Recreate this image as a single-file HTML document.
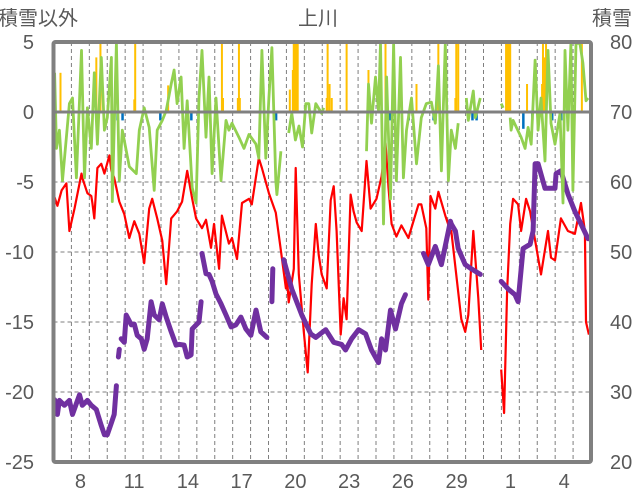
<!DOCTYPE html>
<html><head><meta charset="utf-8"><style>
html,body{margin:0;padding:0;background:#fff;}
svg{display:block;font-family:"Liberation Sans","Noto Sans CJK JP",sans-serif;}
</style></head><body>
<svg id="chart" width="636" height="501" viewBox="0 0 636 501">
<defs><clipPath id="plotclip"><rect x="54" y="43" width="536" height="418"/></clipPath></defs>
<g id="grid"></g>
<g id="bars" clip-path="url(#plotclip)"></g>
<g id="lines" clip-path="url(#plotclip)"></g>
<g id="frame"></g>
<g id="labels"></g>
<text x="38" y="25" font-size="20" fill="#595959" text-anchor="middle">積雪以外</text>
<text x="318" y="25" font-size="20" fill="#595959" text-anchor="middle">上川</text>
<text x="612" y="25" font-size="20" fill="#595959" text-anchor="middle">積雪</text>
</svg>
<script>
const leftTicks=[5,0,-5,-10,-15,-20,-25];
const rightTicks=[80,70,60,50,40,30,20];
const dayLabels=["8","11","14","17","20","23","26","29","1","4"];
const dayLabelIdx=[1,4,7,10,13,16,19,22,25,28];
const nDays=30;
const redT=[0.0,0.06,0.22,0.45,0.72,0.89,1.17,1.56,1.61,1.89,2.11,2.17,2.28,2.45,2.67,2.84,3.12,3.23,3.39,3.67,3.95,4.23,4.51,4.79,5.06,5.34,5.51,5.79,6.07,6.29,6.57,6.9,7.18,7.46,7.74,7.96,8.29,8.51,8.79,8.96,9.24,9.4,9.79,9.96,10.24,10.52,10.91,11.07,11.46,11.63,12.02,12.41,12.69,12.97,13.02,13.13,13.41,13.52,13.69,13.97,14.19,14.41,14.64,14.8,14.97,15.25,15.47,15.64,15.8,16.03,16.19,16.36,16.58,16.75,16.92,17.2,17.47,17.7,18.03,18.31,18.53,18.7,18.87,19.14,19.42,19.81,20.37,20.53,20.81,20.92,21.04,21.31,21.48,21.87,22.15,22.2,22.76,22.98,23.15,23.32,23.43,23.71,23.87,24.5,24.99,25.15,25.32,25.49,25.65,25.93,26.1,26.38,26.6,27.21,27.6,27.77,27.99,28.32,28.71,29.1,29.44,29.66,29.72,29.88];
const redV=[-9.6,-6.1,-6.7,-5.6,-5.1,-8.5,-6.9,-4.4,-4.7,-5.8,-6.0,-6.5,-7.6,-4.0,-3.7,-4.4,-3.1,-4.2,-4.7,-6.4,-7.3,-9.0,-7.8,-8.7,-10.8,-6.9,-6.2,-7.6,-9.2,-12.3,-7.6,-7.1,-6.4,-4.2,-6.2,-7.6,-8.3,-7.7,-9.7,-8.0,-11.2,-7.4,-9.4,-9.0,-10.5,-6.5,-6.2,-6.6,-3.3,-4.0,-5.8,-7.2,-9.9,-12.6,-11.6,-13.6,-11.2,-4.0,-11.6,-15.7,-18.6,-12.3,-8.0,-10.2,-11.6,-12.6,-6.3,-5.3,-8.5,-15.9,-13.3,-14.8,-5.9,-7.1,-7.9,-8.5,-3.5,-6.9,-6.2,-4.6,-2.2,-5.4,-8.0,-8.9,-8.1,-9.0,-6.6,-6.6,-8.3,-13.4,-6.0,-6.9,-5.7,-7.4,-8.5,-8.5,-14.8,-15.7,-14.5,-10.9,-8.5,-13.3,-17.0,null,-18.4,-21.5,-12.8,-8.0,-6.2,-6.6,-8.5,-6.2,-7.1,-11.6,-8.5,-10.4,-10.6,-7.6,-8.5,-8.7,-6.5,-8.5,-15.0,-15.9];
const greenT=[0.06,0.17,0.33,0.5,0.89,1.06,1.28,1.56,1.73,1.89,2.11,2.28,2.45,2.67,2.84,3.0,3.23,3.28,3.51,3.67,3.84,4.23,4.62,4.79,5.06,5.34,5.62,5.79,6.07,6.29,6.57,6.73,6.9,7.12,7.29,7.46,7.74,7.96,8.12,8.29,8.51,8.68,8.85,9.07,9.35,9.63,9.79,9.96,10.35,10.63,10.91,11.3,11.46,11.63,11.85,12.02,12.19,12.41,12.47,12.69,12.9,13.13,13.3,13.5,13.7,13.9,14.08,14.25,14.41,14.64,14.97,15.08,16.0,17.47,17.58,17.75,17.97,18.14,18.25,18.42,18.59,18.81,18.98,19.14,19.37,19.53,19.7,19.98,20.26,20.53,20.81,21.09,21.31,21.48,21.65,21.87,22.04,22.2,22.43,22.59,22.8,23.04,23.15,23.43,23.54,23.82,24.4,24.99,25.1,25.3,25.49,25.54,25.65,26.1,26.32,26.49,26.66,26.88,27.05,27.21,27.43,27.6,27.77,27.99,28.27,28.44,28.55,28.71,28.88,28.99,29.16,29.38,29.55,29.72,29.83];
const greenV=[2.8,-2.6,-1.3,-4.9,0.6,1.0,-4.7,4.4,-4.7,0.3,-2.6,2.8,-2.3,3.9,-1.3,-0.4,3.9,-6.4,4.9,-4.9,-1.3,-3.9,-4.4,-1.3,0.3,-1.1,-5.6,-1.3,-0.6,0.1,2.0,3.0,0.6,2.5,-2.6,0.8,-5.4,-6.5,1.0,4.4,-1.8,2.5,-4.4,1.0,-4.9,-0.6,-1.3,-0.8,-1.8,-2.6,-1.6,-2.3,-3.3,4.4,-3.3,1.0,4.6,-4.9,-5.9,-2.8,null,-1.5,-0.1,-2.0,-1.0,-2.5,0.6,0.6,-1.5,0.6,-0.1,0.3,null,-2.8,2.0,-0.8,2.5,0.1,4.9,-8.0,2.5,-6.2,4.9,-4.9,3.9,-4.7,-1.3,1.0,-3.7,-0.4,0.6,0.7,-0.8,3.3,-4.2,4.9,-4.9,-1.3,-2.6,-0.8,null,1.0,-0.6,1.5,-0.4,1.0,null,0.6,0.3,null,-0.4,-1.3,-0.6,-1.8,-2.6,-1.1,-2.3,3.7,-1.3,1.0,-3.5,4.4,-0.8,-2.3,-0.1,-6.5,4.4,-1.3,4.9,-5.6,4.9,4.9,3.5,0.8,1.0];
const snowT=[0.06,0.22,0.33,0.61,0.89,1.06,1.45,1.61,1.89,2.11,2.39,2.67,2.84,3.0,3.23,3.39,3.51,3.56,3.62,3.67,3.72,3.78,3.95,4.06,4.34,4.51,4.67,4.9,5.06,5.23,5.45,5.62,5.9,6.07,6.29,6.57,6.84,7.01,7.29,7.46,7.68,7.74,8.12,8.24,8.27,8.29,8.51,8.68,8.85,9.07,9.35,9.63,9.91,10.18,10.46,10.74,11.02,11.3,11.57,11.91,12.05,12.19,12.24,12.5,12.85,13.3,13.86,14.36,14.64,15.19,15.64,16.08,16.3,16.64,17.03,17.42,17.75,18.14,18.31,18.53,18.81,19.09,19.42,19.64,20.2,20.65,20.92,21.31,21.65,22.04,22.15,22.2,22.43,22.59,22.98,23.32,23.82,24.4,24.99,25.38,25.76,25.93,26.21,26.6,26.77,26.88,27.05,27.43,27.99,28.05,28.32,28.71,29.1,29.44,29.83];
const snowV=[28.9,26.8,28.8,28.1,28.8,26.8,29.6,28.1,28.8,28.1,27.5,25.2,23.9,23.9,25.6,26.8,30.9,null,35.0,36.1,null,37.6,37.1,41.0,39.6,39.7,38.1,37.6,36.1,37.6,42.9,41.0,40.3,42.6,40.7,38.6,36.7,36.8,36.7,35.0,35.3,39.0,40.0,42.9,null,49.8,46.9,46.8,45.8,44.0,42.6,41.0,39.3,39.6,40.7,39.0,38.1,41.7,38.6,37.8,null,42.9,47.6,null,48.9,44.7,41.0,38.3,37.8,38.9,37.1,36.8,36.0,37.6,38.9,38.3,36.0,34.2,37.6,36.0,41.7,39.0,42.6,43.9,null,49.8,48.2,50.8,48.2,53.0,54.4,54.0,53.0,50.5,48.2,47.6,46.8,null,45.8,44.7,43.9,42.9,50.5,51.1,53.0,62.6,62.6,59.1,59.1,61.2,61.6,58.3,55.8,54.0,51.9];
const precipT=[0.39,2.39,2.62,4.51,4.56,6.4,9.4,9.46,10.29,10.35,10.4,13.19,13.36,13.41,13.47,13.52,13.58,13.63,15.25,15.3,15.41,15.53,16.36,17.58,18.53,20.26,21.48,22.43,22.48,22.59,25.26,25.32,25.38,25.43,25.49,26.43,27.27,27.32,27.43,27.49,29.49];
const precipV=[2.8,3.9,5,0.9,5,1.9,5,1.0,1.0,5,1.0,1.6,3.0,5,5,5,5,5,1.0,5,2.0,1.0,5,3.0,5,2.0,5,1.0,5,5,5,5,5,5,5,2.0,2.0,5,3.9,5,5];
const negT=[3.56,3.84,5.95,7.68,12.41,18.75,19.81,21.2,21.31,23.37,23.6,26.21,26.71,27.82,28.32];
const negV=[-0.6,-0.6,-0.6,-0.6,-0.6,-0.6,-0.6,-0.6,-0.6,-0.6,-0.6,-1.2,-0.6,-0.6,-0.6];

const X0=53.5,X1=591,Y0=112,PX=14;
const xS=t=>X0+t*(X1-X0)/nDays;
const yL=v=>Y0-v*PX;
const yR=s=>yL((s-70)/2);
const NS="http://www.w3.org/2000/svg";
function mk(tag,attrs,parent){const e=document.createElementNS(NS,tag);for(const k in attrs)e.setAttribute(k,attrs[k]);parent.appendChild(e);return e;}
const grid=document.getElementById('grid'),bars=document.getElementById('bars'),lines=document.getElementById('lines'),frame=document.getElementById('frame'),labels=document.getElementById('labels');
for(let d=1;d<nDays;d++){
  const l=mk('line',{x1:xS(d),x2:xS(d),y1:yL(5),y2:yL(-25),stroke:'#7f7f7f','stroke-width':1,'stroke-dasharray':'4 3'},grid);
  
  
}
leftTicks.forEach(v=>{
  if(v!==5&&v!==-25&&v!==0){
    const l=mk('line',{x1:X0,x2:X1,y1:yL(v),y2:yL(v),stroke:'#7f7f7f','stroke-width':1,'stroke-dasharray':'4 3'},grid);
    
    
  }
  const t=mk('text',{x:34,y:yL(v)+7,'font-size':20,fill:'#595959','text-anchor':'end'},labels);
  t.textContent=String(v);
  
  
});
rightTicks.forEach(s=>{
  const t=mk('text',{x:610,y:yR(s)+7,'font-size':20,fill:'#595959','text-anchor':'start'},labels);
  t.textContent=String(s);
  
  
});
dayLabels.forEach((lab,i)=>{
  const t=mk('text',{x:xS(dayLabelIdx[i]+0.5),y:488,'font-size':20,fill:'#595959','text-anchor':'middle'},labels);
  t.textContent=lab;
  
  
});
precipT.forEach((t,i)=>{
  const v=precipV[i];
  const r=mk('rect',{x:xS(t)-1,y:yL(v),width:2,height:yL(0)-yL(v),fill:'#FFC000'},bars);
  
  
});
negT.forEach((t,i)=>{
  const v=negV[i];
  const r=mk('rect',{x:xS(t)-1,y:yL(0),width:2.5,height:yL(v)-yL(0),fill:'#0070C0'},bars);
  
  
});
function pathD(T,V,yf){let d='',pen=false;T.forEach((t,i)=>{const v=V[i];if(v===null){pen=false;return;}d+=(pen?'L':'M')+xS(t).toFixed(1)+' '+yf(v).toFixed(1)+' ';pen=true;});return d;}
const red=mk('path',{d:pathD(redT,redV,yL),fill:'none',stroke:'#FF0000','stroke-width':2.2,'stroke-linejoin':'round'},lines);


const pur=mk('path',{d:pathD(snowT,snowV,yR),fill:'none',stroke:'#7030A0','stroke-width':5,'stroke-linejoin':'round','stroke-linecap':'round'},lines);


const grn=mk('path',{d:pathD(greenT,greenV,yL),fill:'none',stroke:'#92D050','stroke-width':2.8,'stroke-linejoin':'round'},lines);


const zl=mk('line',{x1:X0,x2:X1,y1:yL(0),y2:yL(0),stroke:'#808080','stroke-width':3},frame);


const fr=mk('rect',{x:X0,y:yL(5),width:X1-X0,height:yL(-25)-yL(5),fill:'none',stroke:'#808080','stroke-width':4,rx:2},frame);


</script>
</body></html>
